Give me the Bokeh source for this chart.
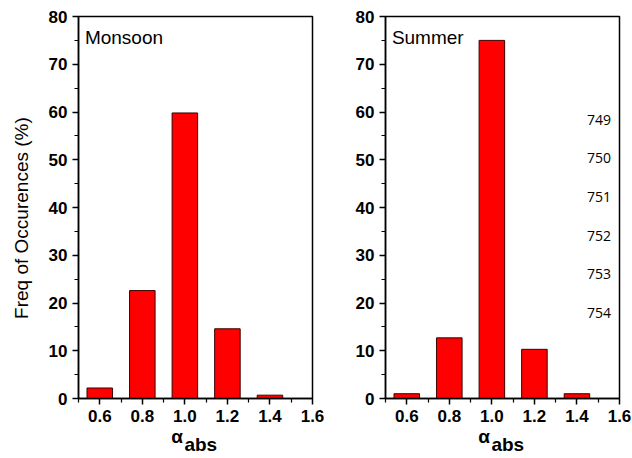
from bokeh.plotting import figure
from bokeh.layouts import row
from bokeh.models import Label, FixedTicker, Range1d
from bokeh.embed import file_html
from bokeh.resources import INLINE

# ---- data ----
alpha_bins = [0.6, 0.8, 1.0, 1.2, 1.4]
monsoon_freq = [2.2, 22.6, 59.8, 14.6, 0.7]
summer_freq = [1.0, 12.7, 75.0, 10.3, 1.0]
x_ticks = [0.6, 0.8, 1.0, 1.2, 1.4, 1.6]
y_ticks = [0, 10, 20, 30, 40, 50, 60, 70, 80]
line_numbers = ["749", "750", "751", "752", "753", "754"]

FONT = "Liberation Sans"
NB = "\u00a0"
X_LABEL = "α" + NB * 7 + "\n" + NB * 2 + "abs"
Y_LABEL = "Freq of Occurences (%)"


def make_panel(freq, name, width, left, right, ylabel):
    p = figure(width=width, height=458, output_backend="svg", toolbar_location=None,
               x_range=Range1d(0.5, 1.6), y_range=Range1d(0, 80),
               min_border_left=left, min_border_right=right,
               min_border_top=16, min_border_bottom=60)
    p.vbar(x=alpha_bins, top=freq, width=0.12, fill_color="#ff0000",
           line_color="#3a0000", line_width=1)
    p.grid.visible = False
    p.outline_line_color = "black"
    p.outline_line_width = 1.5
    p.outline_line_alpha = 1
    p.background_fill_color = "white"
    p.border_fill_color = "white"
    for ax in (p.xaxis[0], p.yaxis[0]):
        ax.axis_line_width = 1.5
        ax.major_tick_line_width = 1.5
        ax.minor_tick_line_width = 1.2
        ax.major_tick_out = 6
        ax.major_tick_in = 0
        ax.minor_tick_out = 4
        ax.minor_tick_in = 0
        ax.major_label_text_font = FONT
        ax.major_label_text_font_style = "bold"
        ax.major_label_text_font_size = "17px"
        ax.major_label_text_color = "black"
        ax.major_label_standoff = 5
        ax.axis_label_text_color = "black"
        ax.axis_label_text_font = FONT
    p.xaxis.ticker = FixedTicker(ticks=x_ticks,
                                 minor_ticks=[0.5, 0.7, 0.9, 1.1, 1.3, 1.5])
    p.yaxis.ticker = FixedTicker(ticks=y_ticks,
                                 minor_ticks=[5, 15, 25, 35, 45, 55, 65, 75])
    p.xaxis.major_label_overrides = {t: f"{t:.1f}" for t in x_ticks}
    # x-axis label: alpha with subscript "abs"
    p.xaxis.axis_label = X_LABEL
    p.xaxis.axis_label_text_font_style = "bold"
    p.xaxis.axis_label_text_font_size = "19px"
    p.xaxis.axis_label_text_line_height = 0.4
    p.xaxis.axis_label_standoff = 1
    if ylabel:
        p.yaxis.axis_label = ylabel + NB * 4
        p.yaxis.axis_label_text_font_style = "normal"
        p.yaxis.axis_label_text_font_size = "19px"
        p.yaxis.axis_label_standoff = 14
    # panel name
    p.add_layout(Label(x=0.53, y=75.5, text=name, text_font=FONT,
                       text_font_size="19px", text_baseline="middle",
                       text_color="black"))
    return p


p1 = make_panel(monsoon_freq, "Monsoon", 340, 78, 28, Y_LABEL)
p2 = make_panel(summer_freq, "Summer", 292, 45, 13, None)

for i, t in enumerate(line_numbers):
    p2.add_layout(Label(x=1.56, y=58.4 - 8.1 * i, text=t, text_font="Open Sans",
                        text_font_size="14px", text_align="right",
                        text_baseline="middle", text_color="black"))

layout = row(p1, p2)
open("out.html", "w").write(file_html(layout, INLINE))
